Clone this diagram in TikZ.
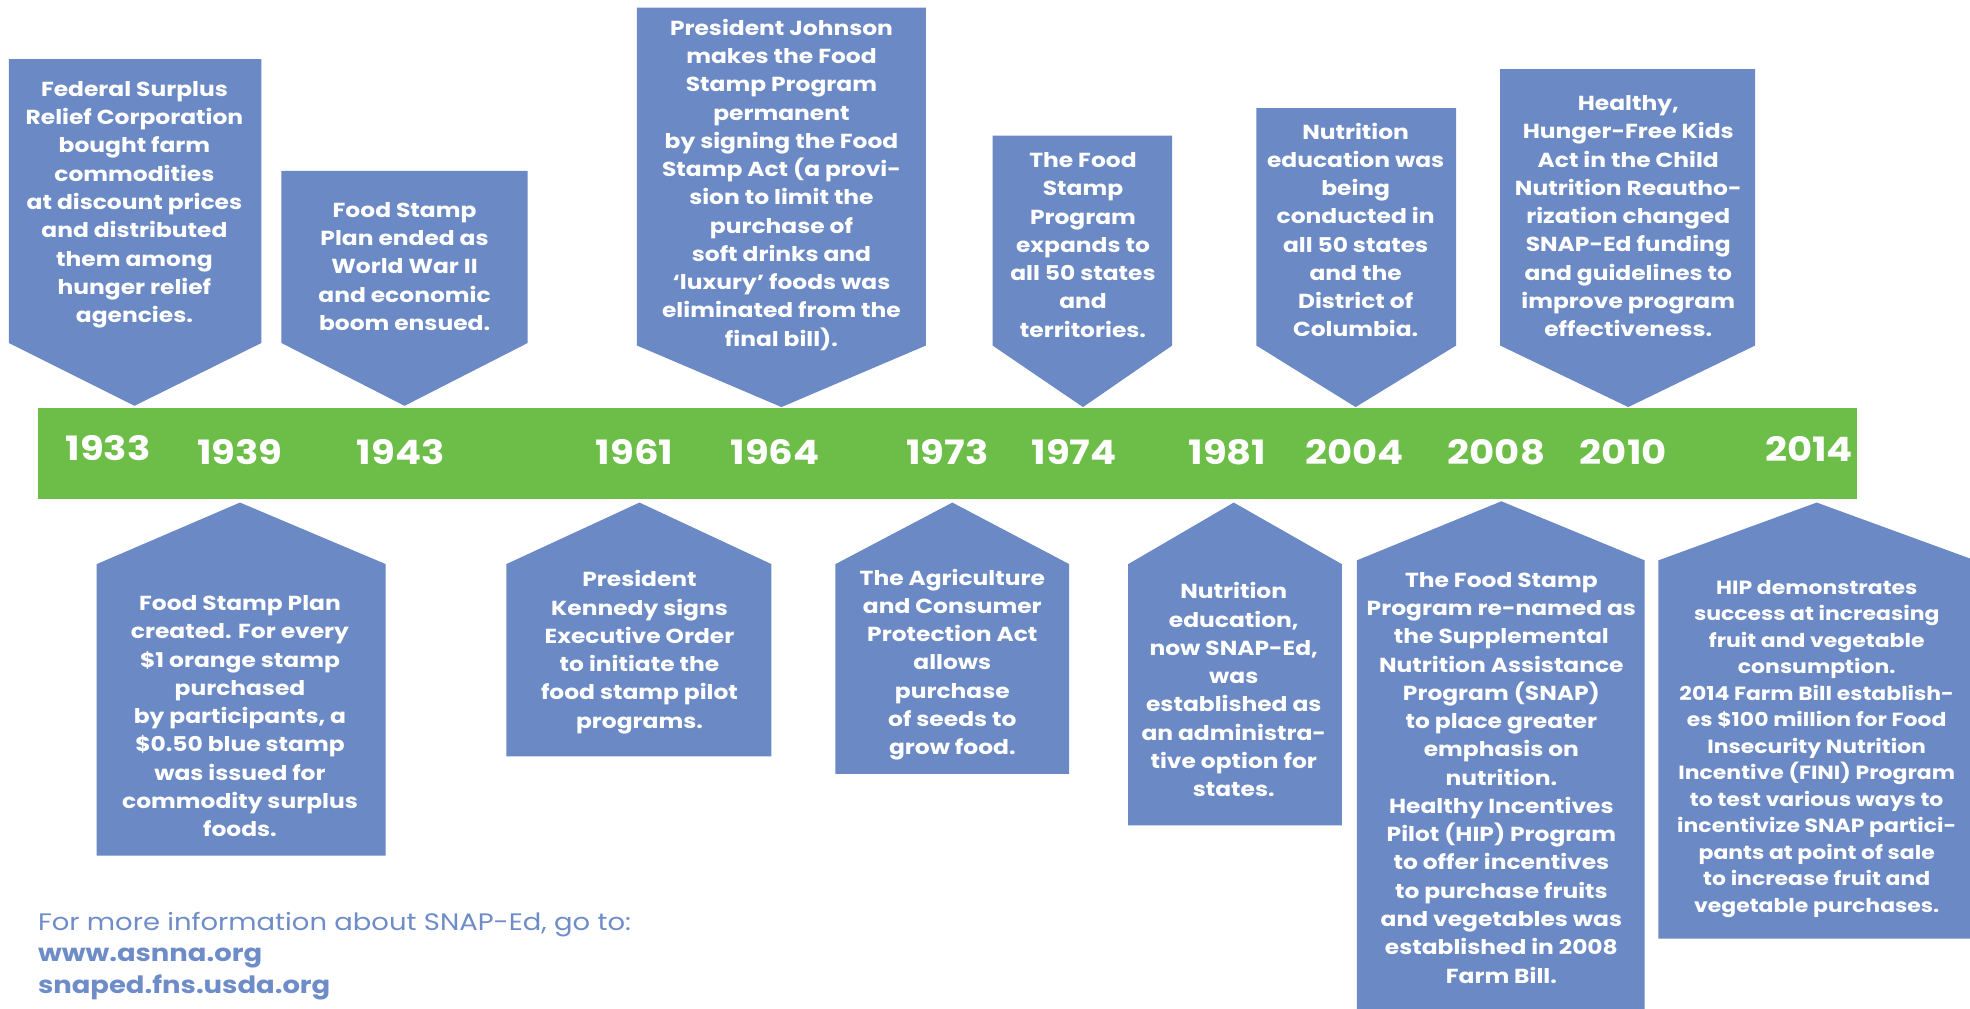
\documentclass[tikz,border=0pt]{standalone}
\usepackage{fontspec}
\setmainfont{Poppins}[FakeStretch=1.15]
\usepackage{tikz}

\definecolor{flagblue}{HTML}{6A89C5}
\definecolor{bargreen}{HTML}{6CBE48}
\definecolor{infoblue}{HTML}{6E8CC8}

\begin{document}
\begin{tikzpicture}[x=0.025cm,y=-0.025cm,
  flag/.style={fill=flagblue},
  note/.style={text=white,align=center,inner sep=0pt,font=\bfseries\fontsize{11.5}{16}\selectfont},
  yr/.style={text=white,inner sep=0pt,font=\bfseries\fontsize{19}{24}\selectfont}]
  \useasboundingbox (0,0) rectangle (1568,803);

  % Timeline bar
  \fill[bargreen] (30,325) rectangle (1478,397);
  \node[yr] (y1933) at (86,357) {1933};
  \node[yr] (y1939) at (191,360) {1939};
  \node[yr] (y1943) at (319,360) {1943};
  \node[yr] (y1961) at (505,360) {1961};
  \node[yr] (y1964) at (617,360) {1964};
  \node[yr] (y1973) at (754,360) {1973};
  \node[yr] (y1974) at (855,360) {1974};
  \node[yr] (y1981) at (977,360) {1981};
  \node[yr] (y2004) at (1078,360) {2004};
  \node[yr] (y2008) at (1191,360) {2008};
  \node[yr] (y2010) at (1292,360) {2010};
  \node[yr] (y2014) at (1440,357) {2014};

  % Flags above the bar
  \fill[flag] (7,47) -- (208,47) -- (208,273) -- (107,323) -- (7,273) -- cycle;
  \node[note] (n1933) at (107,163) {Federal Surplus\\Relief Corporation\\bought farm\\commodities\\at discount prices\\and distributed\\them among\\hunger relief\\agencies.};

  \fill[flag] (224,136) -- (420,136) -- (420,273) -- (322,323) -- (224,273) -- cycle;
  \node[note] (n1943) at (322,212) {Food Stamp\\Plan ended as\\World War II\\and economic\\boom ensued.};

  \fill[flag] (507,6) -- (737,6) -- (737,275) -- (622,324) -- (507,275) -- cycle;
  \node[note] (n1964) at (622,147) {President Johnson\\makes the Food\\Stamp Program\\permanent\\by signing the Food\\Stamp Act (a provi-\\sion to limit the\\purchase of\\soft drinks and\\‘luxury’ foods was\\eliminated from the\\final bill).};

  \fill[flag] (790,108) -- (933,108) -- (933,275) -- (862,324) -- (790,275) -- cycle;
  \node[note] (n1974) at (862,195) {The Food\\Stamp\\Program\\expands to\\all 50 states\\and\\territories.};

  \fill[flag] (1000,86) -- (1159,86) -- (1159,275) -- (1079,324) -- (1000,275) -- cycle;
  \node[note] (n2004) at (1079,183) {Nutrition\\education was\\being\\conducted in\\all 50 states\\and the\\District of\\Columbia.};

  \fill[flag] (1194,55) -- (1397,55) -- (1397,275) -- (1296,324) -- (1194,275) -- cycle;
  \node[note] (n2010) at (1296,172) {Healthy,\\Hunger-Free Kids\\Act in the Child\\Nutrition Reautho-\\rization changed\\SNAP-Ed funding\\and guidelines to\\improve program\\effectiveness.};

  % Flags below the bar
  \fill[flag] (191,400) -- (307,449) -- (307,681) -- (77,681) -- (77,449) -- cycle;
  \node[note] (n1939) at (191,570) {Food Stamp Plan\\created. For every\\\$1 orange stamp\\purchased\\by participants, a\\\$0.50 blue stamp\\was issued for\\commodity surplus\\foods.};

  \fill[flag] (509,400) -- (614,449) -- (614,602) -- (403,602) -- (403,449) -- cycle;
  \node[note] (n1961) at (509,519) {President\\Kennedy signs\\Executive Order\\to initiate the\\food stamp pilot\\programs.};

  \fill[flag] (758,400) -- (851,449) -- (851,616) -- (665,616) -- (665,449) -- cycle;
  \node[note] (n1973) at (758,529) {The Agriculture\\and Consumer\\Protection Act\\allows\\purchase\\of seeds to\\grow food.};

  \fill[flag] (982,400) -- (1068,449) -- (1068,657) -- (898,657) -- (898,449) -- cycle;
  \node[note] (n1981) at (982,549) {Nutrition\\education,\\now SNAP-Ed,\\was\\established as\\an administra-\\tive option for\\states.};

  \fill[flag] (1195,399) -- (1309,446) -- (1309,803) -- (1080,803) -- (1080,446) -- cycle;
  \node[note] (n2008) at (1195,619) {The Food Stamp\\Program re-named as\\the Supplemental\\Nutrition Assistance\\Program (SNAP)\\to place greater\\emphasis on\\nutrition.\\Healthy Incentives\\Pilot (HIP) Program\\to offer incentives\\to purchase fruits\\and vegetables was\\established in 2008\\Farm Bill.};

  \fill[flag] (1446,400) -- (1572,446) -- (1572,747) -- (1320,747) -- (1320,446) -- cycle;
  \node[note,font=\bfseries\fontsize{10.8}{15}\selectfont] (n2014) at (1446,596) {HIP demonstrates\\success at increasing\\fruit and vegetable\\consumption.\\2014 Farm Bill establish-\\es \$100 million for Food\\Insecurity Nutrition\\Incentive (FINI) Program\\to test various ways to\\incentivize SNAP partici-\\pants at point of sale\\to increase fruit and\\vegetable purchases.};

  % Footer
  \node[anchor=west,align=left,inner sep=0pt,text=infoblue,font=\fontsize{13.5}{17.8}\selectfont] (info) at (30,761) {For more information about SNAP-Ed, go to:\\\textbf{www.asnna.org}\\\textbf{snaped.fns.usda.org}};
\end{tikzpicture}
\end{document}
